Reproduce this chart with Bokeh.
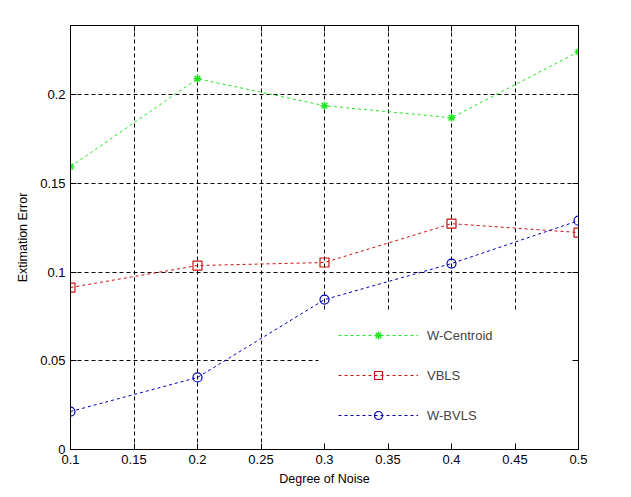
from bokeh.plotting import figure
from bokeh.models import (LinearAxis, FixedTicker, Legend, LegendItem, BoxAnnotation,
                          CustomJSTickFormatter)
from bokeh.embed import file_html
from bokeh.resources import INLINE

# ---- data ----
noise = [0.1, 0.2, 0.3, 0.4, 0.5]
w_centroid = [0.1594, 0.2090, 0.1938, 0.1870, 0.2242]
vbls = [0.0913, 0.1037, 0.1054, 0.1273, 0.1223]
w_bvls = [0.0214, 0.0406, 0.0845, 0.1048, 0.1290]

x_ticks = [0.1, 0.15, 0.2, 0.25, 0.3, 0.35, 0.4, 0.45, 0.5]
x_tick_labels = ["0.1", "0.15", "0.2", "0.25", "0.3", "0.35", "0.4", "0.45", "0.5"]
y_ticks = [0, 0.05, 0.1, 0.15, 0.2]
y_tick_labels = ["0", "0.05", "0.1", "0.15", "0.2"]

FONT = "Liberation Sans"

p = figure(frame_width=508, frame_height=424,
           x_range=(0.1, 0.5), y_range=(0, 0.239),
           output_backend="svg", toolbar_location=None,
           min_border_left=70, min_border_right=45,
           min_border_top=25, min_border_bottom=40,
           background_fill_color="white", border_fill_color="white")

p.outline_line_color = "black"
p.outline_line_width = 1

# grid
for g in (p.xgrid, p.ygrid):
    g.grid_line_color = "black"
    g.grid_line_dash = "4 3"
    g.grid_line_width = 1
p.xgrid.ticker = FixedTicker(ticks=x_ticks)
p.ygrid.ticker = FixedTicker(ticks=y_ticks)

def style_axis(ax, ticks, labels, show_labels=True):
    ax.ticker = FixedTicker(ticks=ticks)
    ax.minor_tick_line_color = None
    ax.major_tick_in = 6
    ax.major_tick_out = 0
    ax.axis_line_color = "black"
    ax.major_tick_line_color = "black"
    ax.major_label_text_font = FONT
    ax.major_label_text_font_size = "13px"
    ax.major_label_text_color = "black"
    ax.major_label_standoff = 5
    if show_labels:
        ax.major_label_overrides = {t: l for t, l in zip(ticks, labels)}
    else:
        ax.formatter = CustomJSTickFormatter(code="return '';")

style_axis(p.xaxis[0], x_ticks, x_tick_labels)
style_axis(p.yaxis[0], y_ticks, y_tick_labels)
p.xaxis[0].axis_label = "Degree of Noise"
p.yaxis[0].axis_label = "Extimation Error"
for ax in (p.xaxis[0], p.yaxis[0]):
    ax.axis_label_text_font = FONT
    ax.axis_label_text_font_size = "12.5px"
    ax.axis_label_text_font_style = "normal"
    ax.axis_label_text_color = "black"
p.xaxis[0].axis_label_standoff = 5
p.yaxis[0].axis_label_standoff = 7

top_ax = LinearAxis()
style_axis(top_ax, x_ticks, x_tick_labels, show_labels=False)
p.add_layout(top_ax, "above")
right_ax = LinearAxis()
style_axis(right_ax, y_ticks, y_tick_labels, show_labels=False)
p.add_layout(right_ax, "right")

# white legend box hiding the grid
cover = BoxAnnotation(left=0.2953, top=0.0783, fill_color="white", fill_alpha=1.0,
                      line_alpha=0, level="underlay")
p.add_layout(cover)

# series
green = "#22e622"
red = "#cc1111"
blue = "#0000b4"

l1 = p.line(noise, w_centroid, line_color=green, line_dash="3 3", line_width=1)
s1 = p.scatter(noise, w_centroid, marker="asterisk", size=8, line_color=green, line_width=1.5)
l2 = p.line(noise, vbls, line_color=red, line_dash="3 3", line_width=1)
s2 = p.scatter(noise, vbls, marker="square", size=9, line_color=red, fill_color=None, line_width=1.2)
l3 = p.line(noise, w_bvls, line_color=blue, line_dash="3 3", line_width=1)
s3 = p.scatter(noise, w_bvls, marker="circle", size=9, line_color=blue, fill_color=None, line_width=1.2)

legend = Legend(items=[
    LegendItem(label="W-Centroid", renderers=[l1, s1]),
    LegendItem(label="VBLS", renderers=[l2, s2]),
    LegendItem(label="W-BVLS", renderers=[l3, s3]),
], location=(268, 24))
legend.glyph_width = 80
legend.glyph_height = 20
legend.spacing = 20
legend.padding = 0
legend.margin = 0
legend.label_standoff = 9
legend.label_text_font = FONT
legend.label_text_font_size = "13px"
legend.background_fill_alpha = 0
legend.border_line_color = None
p.add_layout(legend, "center")

open("out.html", "w").write(file_html(p, INLINE))
